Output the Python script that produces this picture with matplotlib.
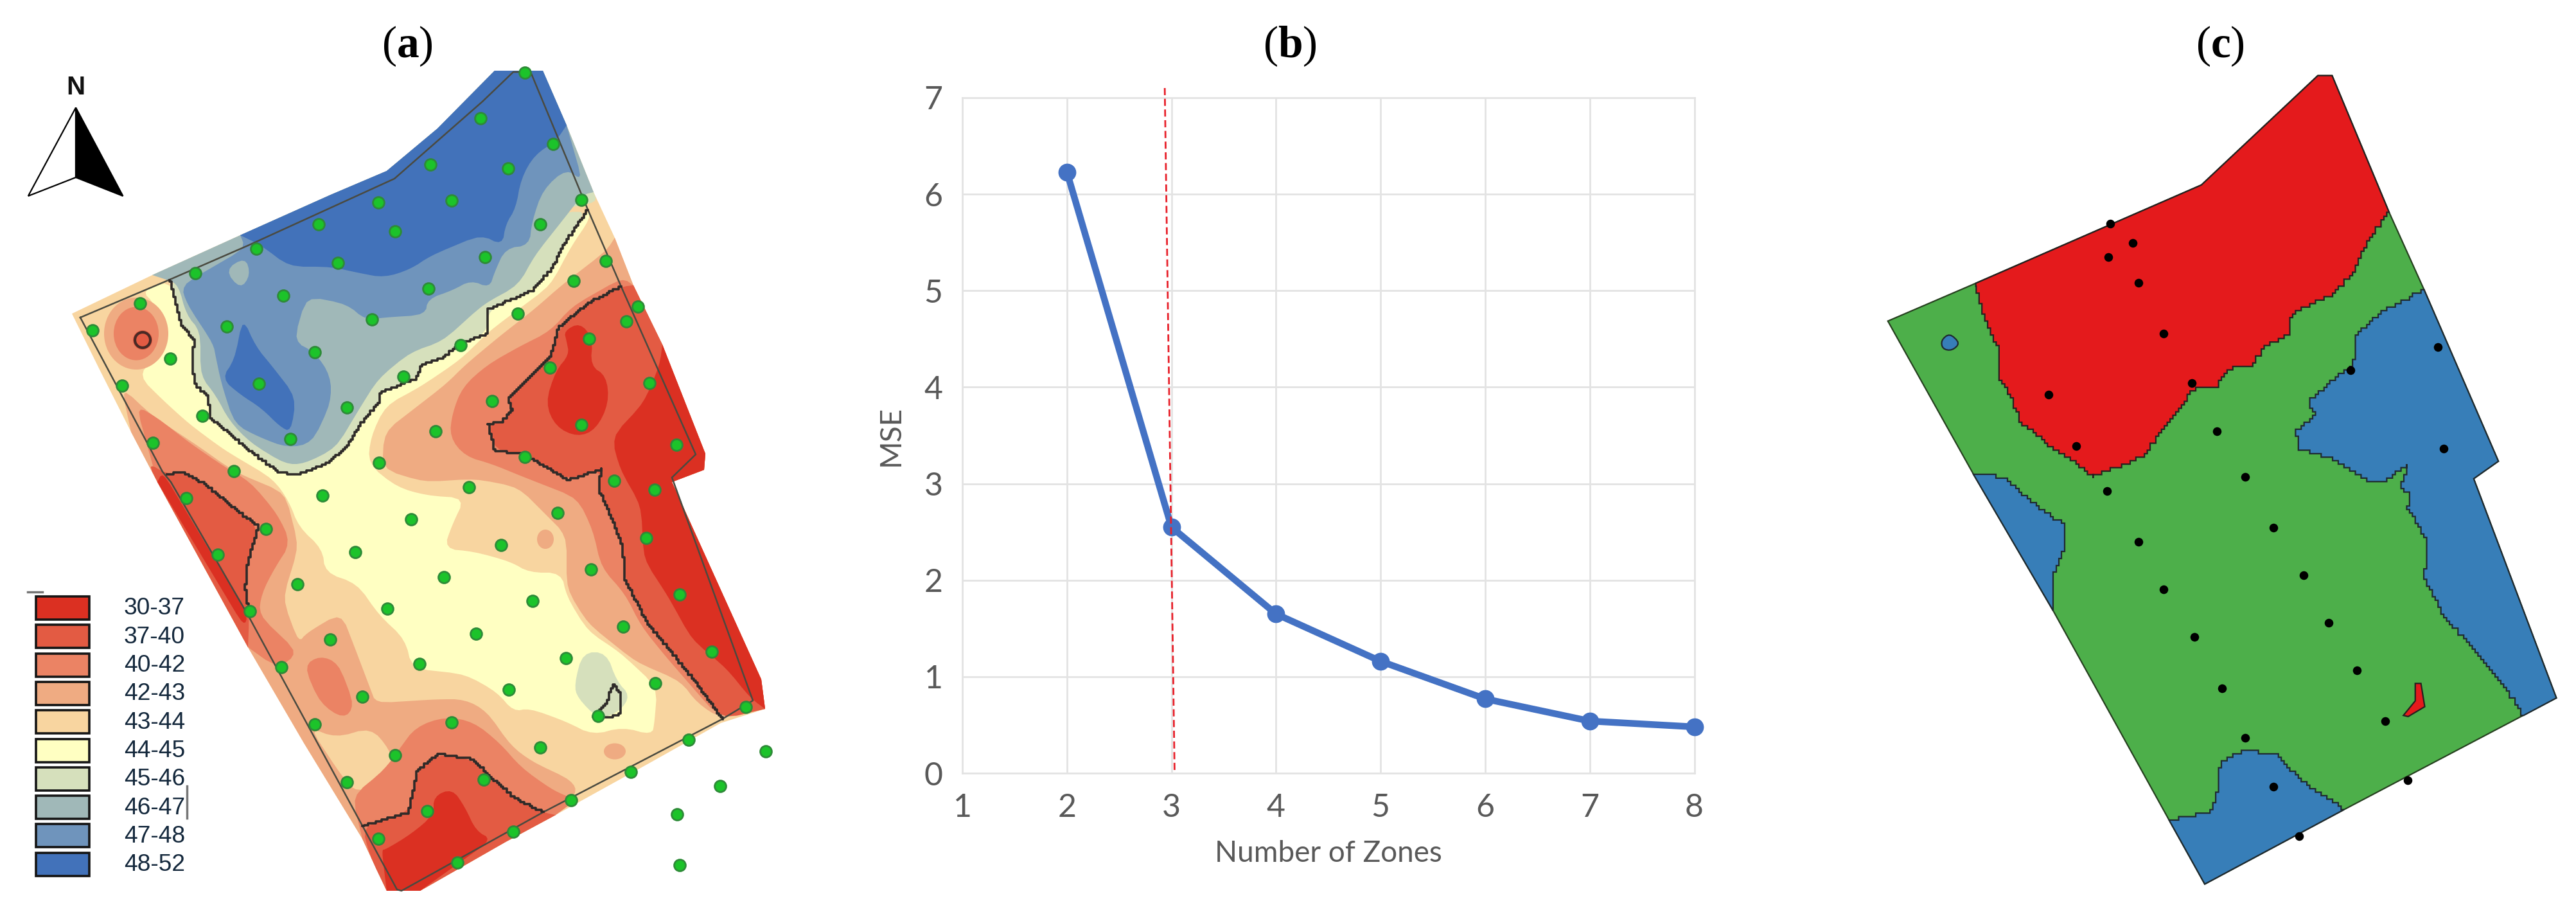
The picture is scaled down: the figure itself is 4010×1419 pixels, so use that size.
import numpy as np
import matplotlib
matplotlib.use("Agg")
import matplotlib.pyplot as plt
from matplotlib.patches import Polygon, Ellipse, Rectangle

plt.rcParams['mathtext.fontset'] = 'custom'
plt.rcParams['mathtext.bf'] = 'Liberation Serif:bold'
plt.rcParams['mathtext.rm'] = 'Liberation Serif'

# panel (b) data
zones = [2, 3, 4, 5, 6, 7, 8]
mse = [6.23, 2.55, 1.65, 1.16, 0.77, 0.54, 0.48]
cut_x = [2.936, 3.03]
cut_y = [7.1, 0]

# panel (a) legend
class_labels = ['30-37', '37-40', '40-42', '42-43', '43-44', '44-45', '45-46', '46-47', '47-48', '48-52']
class_colors = ['#DB3022', '#E35B43', '#EB8364', '#EFAB82', '#F8D5A0', '#FFFFC2', '#D6E0BC', '#A0B8B8', '#6F94BC', '#4272BA']

# panel (a) outlines in image pixels
field_a = [(112,488),(237,428),(374,366),(515,303),(602,266),(681,200),(770,110),(845,110),(882,195),(924,299),(957,370),(986,444),(1031,536),(1098,706),(1096,731),(1046,750),(1185,1057),(1191,1103),(1122,1125),(1015,1185),(865,1268),(787,1310),(654,1386),(602,1386),(564,1305),(473,1156),(386,1007),(245,750),(204,672),(154,573)]
line_a = [(125,494),(262,436),(386,382),(614,278),(751,158),(799,112),(826,112),(915,326),(967,446),(1083,707),(1046,743),(1172,1090),(1124,1119),(845,1264),(625,1386),(618,1384),(386,957),(266,750),(253,734),(125,494)]

contour_north = [(264,436),(274,473),(282,506),(303,531),(299,556),(303,598),(324,618),(328,651),(349,668),(382,697),(432,734),(461,739),(511,720),(540,693),(564,656),(589,627),(593,610),(648,589),(656,568),(689,556),(716,535),(758,519),(760,481),(828,452),(861,415),(876,382),(915,326)]
contour_east = [(967,446),(915,473),(870,510),(857,556),(791,622),(797,639),(782,656),(760,660),(770,701),(816,707),(882,747),(936,730),(932,762),(944,787),(969,850),(973,903),(1010,974),(1035,1003),(1085,1065),(1124,1119)]
contour_west = [(260,738),(282,734),(320,754),(370,796),(403,820),(386,875),(382,916),(388,957)]
contour_south = [(564,1285),(635,1264),(641,1239),(650,1198),(681,1173),(735,1181),(766,1212),(803,1243),(845,1264)]
contour_spot = [(923,1115),(944,1094),(954,1065),(967,1082),(967,1111),(944,1117),(923,1115)]

# class regions in paint order: (class index, outline)
regions_a = [
    (5, contour_north + [(919,340),(890,382),(857,444),(762,515),(716,560),(654,602),(600,631),(577,680),(573,722),(618,758),(664,771),(724,775),(704,816),(691,854),(737,858),(795,874),(824,891),(874,891),(882,928),(915,982),(965,1015),(1023,1069),(1019,1123),(1015,1144),(969,1131),(923,1144),(882,1123),(824,1102),(799,1107),(774,1077),(724,1049),(641,1040),(631,995),(590,957),(556,908),(506,891),(502,854),(465,820),(450,780),(425,745),(349,700),(295,660),(253,622),(216,585),(237,560),(253,519),(241,473),(220,452)]),
    (3, [(944,390),(874,444),(832,481),(778,523),(724,568),(695,597),(646,635),(598,672),(595,730),(660,750),(740,745),(807,758),(849,800),(882,833),(882,916),(915,970),(990,1030),(1060,1060),(1085,1094),(1124,1119),(1191,1103),(1185,1057),(1046,750),(1096,731),(1098,706),(1031,536),(986,444),(957,370)]),
    (2, [(969,432),(890,477),(857,515),(807,540),(758,568),(720,602),(704,643),(700,680),(724,710),(766,722),(807,739),(899,775),(923,825),(936,883),(973,924),(998,974),(1035,1020),(1081,1073),(1118,1115),(1191,1103),(1185,1057),(1046,750),(1096,731),(1098,706),(1031,536),(986,444)]),
    (1, contour_east + [(1191,1103),(1185,1057),(1046,750),(1096,731),(1098,706),(1031,536),(986,444)]),
    (0, [(878,515),(903,502),(923,527),(919,569),(944,585),(948,627),(928,668),(899,680),(865,664),(849,627),(865,577),(886,552),(882,531)]),
    (0, [(952,680),(1002,627),(1027,568),(1031,536),(1098,706),(1096,731),(1046,750),(1185,1057),(1191,1103),(1168,1086),(1131,1040),(1077,995),(1040,928),(1002,870),(998,787),(965,730)]),
    # west side
    (3, [(189,602),(237,647),(307,693),(365,734),(444,767),(465,850),(440,932),(465,1000),(477,985),(531,953),(552,1007),(577,1073),(585,1094),(680,1088),(724,1088),(758,1107),(795,1160),(828,1185),(890,1214),(899,1235),(865,1268),(787,1310),(654,1386),(602,1386),(564,1305),(473,1156),(386,1007),(245,750),(204,672)]),
    (4, [(482,1132),(523,1148),(577,1132),(606,1165),(618,1202),(556,1235),(531,1206)]),
    (2, [(473,1036),(498,1020),(527,1032),(552,1098),(535,1119),(498,1094)]),
    (2, [(212,631),(245,650),(295,689),(349,726),(390,750),(432,800),(453,845),(428,883),(407,924),(403,957),(465,1016),(432,1040),(386,1007),(245,750)]),
    (1, contour_west + [(386,1007),(245,750),(230,720)]),
    (0, [(253,734),(386,957),(380,975),(245,750)]),
    # south side
    (2, [(548,1239),(598,1198),(622,1165),(647,1131),(693,1115),(737,1123),(778,1156),(811,1194),(857,1227),(882,1239),(899,1243),(865,1268),(787,1310),(654,1386),(602,1386),(564,1305)]),
    (1, contour_south + [(865,1268),(787,1310),(654,1386),(602,1386),(575,1330)]),
    (0, [(675,1239),(704,1227),(724,1256),(741,1293),(766,1306),(654,1386),(602,1386),(594,1322),(600,1322),(641,1297),(675,1268)]),
    # north block
    (6, contour_north[::-1] + [(930,315),(924,299),(882,195),(845,110),(770,110),(681,200),(602,266),(515,303),(374,366),(237,428)]),
    (7, [(278,444),(290,490),(312,515),(312,585),(336,615),(357,655),(390,689),(444,722),(473,722),(523,697),(560,635),(589,589),(639,548),(689,531),(753,473),(807,444),(832,398),(874,345),(907,303),(924,299),(882,195),(845,110),(770,110),(681,200),(602,266),(515,303),(374,366),(237,428),(262,436)]),
    (8, [(282,444),(382,386),(374,366),(515,303),(602,266),(681,200),(770,110),(845,110),(882,195),(907,282),(882,262),(845,295),(828,345),(824,382),(787,386),(770,423),(762,448),(733,436),(704,452),(666,465),(662,490),(598,494),(569,498),(540,473),(477,461),(457,531),(490,548),(515,585),(515,627),(486,689),(448,697),(403,680),(365,660),(345,598),(336,556),(332,535),(291,473)]),
    (9, [(374,366),(515,303),(602,266),(681,200),(770,110),(845,110),(882,195),(865,220),(832,241),(811,278),(803,324),(787,349),(782,382),(749,365),(670,398),(639,419),(598,432),(560,425),(515,415),(450,415),(407,382)]),
    (9, [(378,494),(398,539),(423,569),(461,618),(453,672),(436,664),(407,635),(374,614),(345,589),(365,560)]),
    (7, [(350,420),(382,400),(390,428),(374,450)]),
    (6, [(894,1065),(907,1015),(944,1015),(960,1060),(981,1082),(965,1107),(932,1119),(899,1086)]),
]
# round patches: (class index, x, y, width, height)
spots_a = [(3, 212, 519, 100, 112), (2, 212, 519, 70, 83), (1, 222, 529, 30, 30),
           (3, 957, 1169, 34, 25), (3, 849, 839, 26, 30)]
ring_a = (222, 529, 24, 24)

contours_a = [contour_north, contour_east, contour_west, contour_south, contour_spot]

points_a = [(1025,125),(938,203),(1080,247),(840,283),(992,290),(1135,344),(738,348),(881,345),(622,386),(771,398),(1055,386),(500,428),(660,452),(947,442),(1183,449),(381,470),(836,496),(553,508),(1120,483),(273,522),(1245,527),(1011,539),(726,549),(1223,552),(180,568),(443,561),(1150,582),(899,593),(332,617),(614,605),(1073,632),(238,663),(505,660),(788,647),(1268,659),(961,690),(677,701),(395,715),(1135,730),(567,755),(850,742),(299,761),(1320,765),(740,796),(1025,786),(456,810),(1199,826),(916,838),(1278,842),(629,852),(364,856),(1089,882),(803,893),(519,909),(1262,925),(978,937),(693,949),(425,954),(1154,979),(866,992),(581,1004),(1327,1022),(1040,1033),(756,1046),(488,1051),(1216,1077),(929,1090),(645,1100),(1390,1121),(1105,1131),(819,1142),(549,1147),(1279,1175),(993,1186),(707,1198),(1456,1216),(1168,1231),(881,1242),(614,1245),(1344,1272),(1055,1285),(771,1298),(1495,1292),(1232,1327),(944,1340),(677,1345),(1406,1351),(1115,1376),(834,1395),(1322,1400),(1002,1430),(738,1442),(1327,1487),(893,1483)]

# panel (c) outlines
field_c = [(1025,130),(1055,130),(1175,365),(1248,497),(1405,793),(1353,823),(1527,1200),(1080,1392),(787,1520),(712,1410),(468,1050),(300,815),(120,552),(305,487),(780,318)]
edge_c = field_c + [(1458,1230)]
red_c = [(305,487),(780,318),(1025,130),(1055,130),(1175,365),(1130,420),(1100,470),(1060,505),(970,540),(965,575),(910,600),(890,628),(835,635),(815,665),(760,670),(740,700),(700,740),(660,785),(600,805),(555,820),(510,790),(460,765),(400,725),(380,680),(355,650),(355,600),(325,550)]
blue_c = [
    [(1248,497),(1405,793),(1353,823),(1527,1200),(1458,1230),(1420,1180),(1340,1100),(1290,1060),(1250,990),(1255,930),(1215,870),(1220,850),(1200,835),(1215,800),(1170,825),(1130,825),(1060,790),(985,770),(980,740),(1020,710),(1005,690),(1060,650),(1100,625),(1105,575),(1150,540)],
    [(300,815),(360,820),(440,875),(495,905),(490,950),(470,990),(468,1050)],
    [(712,1410),(800,1395),(815,1350),(820,1310),(870,1290),(935,1297),(1000,1350),(1080,1392),(787,1520)],
]
blue_small_c = [(232,585),(250,573),(272,590),(255,603),(235,600)]
red_small_c = [(1205,1230),(1230,1205),(1230,1175),(1242,1175),(1250,1215),(1215,1232)]
points_c = [(588,384),(635,418),(584,442),(647,486),(701,573),(1278,597),(1094,637),(760,659),(458,679),(517,767),(813,742),(1290,771),(872,820),(582,844),(931,907),(647,931),(995,989),(701,1013),(1048,1071),(765,1095),(1107,1153),(824,1183),(1167,1240),(872,1269),(931,1352),(1214,1342),(985,1438)]

# north arrow
arrow_left = [(148,185),(55,337),(148,305)]
arrow_right = [(148,185),(240,337),(148,305)]


def to_a(pts):
    p = np.array(pts, dtype=float)
    return np.c_[p[:, 0] / 1.254, p[:, 1] / 1.105]


def to_c(pts):
    p = np.array(pts, dtype=float)
    return np.c_[2850 + p[:, 0] / 1.352, p[:, 1] / 1.105]


# round the corners of a traced outline, leaving the field corners sharp
def soften(pts, fixed, cut=12, rounds=2):
    p = [np.array(q, dtype=float) for q in pts]
    for _ in range(rounds):
        out = []
        for i in range(len(p)):
            if tuple(p[i]) in fixed:
                out.append(p[i])
                continue
            a, b, c = p[i - 1], p[i], p[(i + 1) % len(p)]
            d1, d2 = np.hypot(*(a - b)), np.hypot(*(c - b))
            if d1 == 0 or d2 == 0:
                continue
            out.append(b + (a - b) * min(0.25, cut / d1))
            out.append(b + (c - b) * min(0.25, cut / d2))
        p = out
    return np.array(p)


# turn the traced inner segments into pixel steps, like the raster contours
def stairs(pts, fixed=(), cell=6, closed=True):
    p = np.array(pts, dtype=float)
    n = len(p) if closed else len(p) - 1
    out = [p[0]]
    for i in range(n):
        a, b = p[i], p[(i + 1) % len(p)]
        if tuple(a) in fixed and tuple(b) in fixed:
            out.append(b)
            continue
        d = np.hypot(*(b - a))
        for t in np.linspace(0, 1, int(d / cell) + 2)[1:]:
            q = np.round((a + (b - a) * t) / cell) * cell
            if tuple(b) in fixed and t == 1:
                q = b
            out.append(np.array([q[0], out[-1][1]]))
            out.append(q)
    return np.array(out)


fig = plt.figure(figsize=(40.1, 14.19), dpi=100)
ax = fig.add_axes([0, 0, 1, 1])
ax.set_xlim(0, 4010)
ax.set_ylim(1419, 0)
ax.axis('off')

# --- panel a
fixed_a = {(float(x), float(y)) for x, y in field_a}
base = Polygon(field_a, closed=True, fc=class_colors[4], ec='none')
ax.add_patch(base)
for idx, pts in regions_a:
    pg = Polygon(soften(pts, fixed_a), closed=True, fc=class_colors[idx], ec='none')
    ax.add_patch(pg)
for idx, x, y, w, h in spots_a:
    ax.add_patch(Ellipse((x, y), w, h, fc=class_colors[idx], ec='none'))
ax.add_patch(Ellipse(ring_a[:2], ring_a[2], ring_a[3], fc='none', ec='#4a2a25', lw=3))
ln = np.array(line_a)
ax.plot(ln[:, 0], ln[:, 1], color='#4a4a40', lw=1.8)
for c in contours_a:
    p = stairs(c, cell=3, closed=False)
    ax.plot(p[:, 0], p[:, 1], color='#2e2a28', lw=2.6, solid_joinstyle='round')
p = to_a(points_a)
ax.scatter(p[:, 0], p[:, 1], s=165, c='#1CC32A', edgecolors='#2E8B38', linewidths=2, zorder=5)

ax.add_patch(Polygon(to_a(arrow_left), closed=True, fc='white', ec='black', lw=1.6))
ax.add_patch(Polygon(to_a(arrow_right), closed=True, fc='black', ec='black', lw=1.6))
xy = to_a([(148, 150)])[0]
ax.text(xy[0], xy[1], 'N', family='Liberation Sans', fontweight='bold', fontsize=29, ha='center', va='center', color='#111111')

for i, (lab, col) in enumerate(zip(class_labels, class_colors)):
    top = 928 + 44.3 * i
    ax.add_patch(Rectangle((56, top), 83, 36, fc=col, ec='#151515', lw=2.6))
    ax.text(193, top + 19, lab, family='Liberation Sans', fontsize=26.7, ha='left', va='center', color='#14283C')
ax.plot([43, 66], [921, 921], color='#777777', lw=2.5)
ax.plot([291, 291], [1223, 1273], color='#777777', lw=2.5)

# --- panel c
fixed_c = {(float(x), float(y)) for x, y in edge_c}
ax.add_patch(Polygon(to_c(field_c), closed=True, fc='#4DAF4A', ec='#26401f', lw=1.6))
ax.add_patch(Polygon(to_c(stairs(red_c, fixed_c)), closed=True, fc='#E41A1C', ec='#26201f', lw=1.6))
for pts in blue_c:
    ax.add_patch(Polygon(to_c(stairs(pts, fixed_c)), closed=True, fc='#377EB8', ec='#1f2a30', lw=1.6))
ax.add_patch(Polygon(to_c(soften(blue_small_c, (), cut=6)), closed=True, fc='#377EB8', ec='#1f2a30', lw=1.6))
ax.add_patch(Polygon(to_c(red_small_c), closed=True, fc='#E41A1C', ec='#26201f', lw=1.6))
p = to_c(points_c)
ax.scatter(p[:, 0], p[:, 1], s=95, c='black', linewidths=0, zorder=5)

# --- titles
ax.text(634, 72, r'($\mathbf{a}$)', fontsize=50, ha='center', va='center', family='Liberation Serif')
ax.text(2008, 72, r'($\mathbf{b}$)', fontsize=50, ha='center', va='center', family='Liberation Serif')
ax.text(3456, 72, r'($\mathbf{c}$)', fontsize=50, ha='center', va='center', family='Liberation Serif')

# --- panel b
W, H = 4010.0, 1419.0
axb = fig.add_axes([1498 / W, 1 - 1203 / H, (2637.5 - 1498) / W, (1203 - 152) / H])
axb.patch.set_alpha(0)
axb.set_xlim(1, 8)
axb.set_ylim(0, 7)
axb.set_xticks(range(1, 9))
axb.set_yticks(range(0, 8))
axb.grid(True, color='#E3E3E3', lw=2)
axb.set_axisbelow(True)
for s in axb.spines.values():
    s.set_color('#E3E3E3')
    s.set_linewidth(2)
axb.tick_params(length=0, labelsize=36, labelcolor='#595959', pad=22)
for t in axb.get_xticklabels() + axb.get_yticklabels():
    t.set_family('Lato')
axb.plot(zones, mse, color='#4472C4', lw=7.5, marker='o', ms=19, clip_on=False, zorder=4, solid_capstyle='round')
axb.plot(cut_x, cut_y, color='#E8202A', lw=2, ls=(0, (4, 2)), clip_on=False, zorder=5)
axb.set_xlabel('Number of Zones', family='Lato', fontsize=33, color='#595959', labelpad=20)
axb.set_ylabel('MSE', family='Lato', fontsize=33, color='#595959', labelpad=22)

fig.savefig('out.png', dpi=100)
